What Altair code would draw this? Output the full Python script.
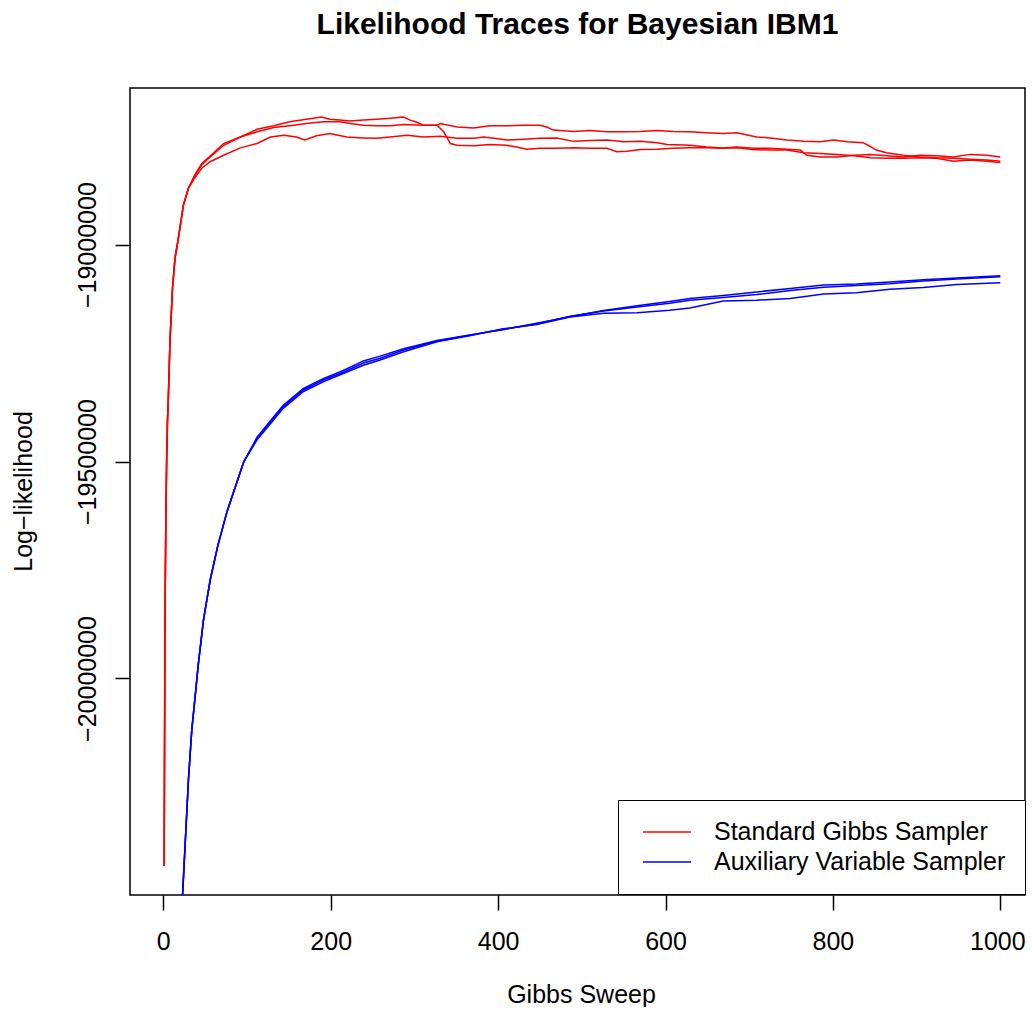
import altair as alt
import pandas as pd

# ---- data (log-likelihood values in thousands) ----
red_early_sweep = [1, 2, 3, 4, 5, 6, 8, 11, 14, 18, 24, 30]
red_early_k = [-20432, -19865, -19635, -19497, -19404, -19354, -19220, -19100,
               -19031, -18985, -18909, -18870]

red_low_sweep = [38, 46, 56, 72, 92, 112, 128, 144, 159, 169, 183, 199, 219, 239, 255,
                 271, 291, 311, 331, 351, 371, 383, 395, 411, 431, 450, 470, 490, 510, 530,
                 550, 570, 590, 602, 630, 649, 669, 685, 705, 725, 745, 761, 769, 785, 805,
                 825, 845, 864, 884, 904, 924, 944, 964, 984, 1000]
red_low_k = [-18845, -18824, -18809, -18794, -18777, -18767, -18752, -18748, -18752, -18759,
             -18749, -18744, -18752, -18754, -18755, -18752, -18748, -18752, -18750, -18755,
             -18755, -18752, -18755, -18759, -18757, -18755, -18754, -18762, -18760, -18759,
             -18763, -18762, -18765, -18769, -18771, -18775, -18777, -18775, -18778, -18778,
             -18780, -18782, -18794, -18798, -18798, -18794, -18792, -18795, -18798, -18794,
             -18795, -18798, -18792, -18794, -18798]

red_top_sweep = [38, 46, 56, 72, 92, 112, 132, 151, 171, 189, 199, 211, 223, 239, 255,
                 271, 287, 295, 303, 311, 327, 331, 351, 371, 390, 410, 430, 450, 458, 466,
                 490, 510, 530, 550, 570, 590, 609, 629, 649, 669, 685, 709, 725, 745, 765,
                 785, 801, 817, 836, 842, 852, 864, 884, 904, 924, 944, 964, 984, 1000]
red_top_k = [-18838, -18813, -18796, -18767, -18752, -18734, -18726, -18717, -18711, -18706,
             -18711, -18713, -18715, -18713, -18711, -18709, -18706, -18713, -18718, -18725,
             -18725, -18721, -18729, -18731, -18726, -18726, -18725, -18725, -18729, -18736,
             -18739, -18737, -18740, -18740, -18739, -18737, -18739, -18740, -18742, -18744,
             -18742, -18752, -18754, -18759, -18762, -18763, -18759, -18763, -18765, -18771,
             -18782, -18788, -18794, -18798, -18800, -18801, -18803, -18805, -18808]

red_drop_sweep = [38, 46, 56, 72, 92, 112, 132, 151, 171, 191, 211, 223, 239, 255, 271,
                  287, 311, 327, 335, 343, 351, 371, 390, 410, 422, 434, 450, 470, 490, 510,
                  530, 542, 554, 570, 590, 609, 629, 649, 669, 685, 705, 725, 745, 765, 785,
                  805, 825, 845, 864, 884, 904, 924, 944, 964, 984, 1000]
red_drop_k = [-18840, -18816, -18798, -18771, -18752, -18740, -18730, -18726, -18721, -18717,
              -18717, -18721, -18725, -18726, -18726, -18723, -18725, -18725, -18740, -18767,
              -18771, -18772, -18769, -18771, -18775, -18780, -18778, -18778, -18777, -18778,
              -18778, -18786, -18785, -18781, -18780, -18778, -18777, -18777, -18778, -18777,
              -18781, -18782, -18782, -18788, -18790, -18792, -18795, -18800, -18801, -18801,
              -18800, -18801, -18808, -18805, -18808, -18811]

blue_early_sweep = [21, 23, 30, 34, 42, 48, 56, 65, 76, 88, 96]
blue_early_k = [-20579, -20499, -20234, -20119, -19964, -19865, -19773, -19695, -19616,
                -19547, -19501]

blue_sweep = [112, 128, 143, 167, 191, 215, 239, 259, 287, 327, 366, 406, 446, 486, 526,
              566, 605, 629, 669, 709, 749, 789, 828, 868, 908, 948, 1000]
blue_a_k = [-19444, -19406, -19371, -19332, -19309, -19290, -19268, -19257, -19240, -19221,
            -19208, -19196, -19181, -19166, -19152, -19141, -19131, -19124, -19117, -19109,
            -19101, -19093, -19091, -19086, -19081, -19077, -19072]
blue_b_k = [-19446, -19409, -19374, -19335, -19312, -19294, -19273, -19262, -19243, -19222,
            -19209, -19195, -19183, -19165, -19153, -19144, -19135, -19128, -19122, -19115,
            -19106, -19098, -19094, -19090, -19084, -19079, -19074]
blue_c_k = [-19450, -19413, -19378, -19339, -19316, -19297, -19278, -19266, -19247, -19224,
            -19210, -19194, -19184, -19167, -19158, -19157, -19151, -19146, -19130, -19128,
            -19124, -19114, -19111, -19103, -19099, -19092, -19088]

STD = "Standard Gibbs Sampler"
AUX = "Auxiliary Variable Sampler"

x_ticks = [0, 200, 400, 600, 800, 1000]
y_ticks = [-20000000, -19500000, -19000000]

# ---- build long table ----
rows = []
def add(trace, sampler, sweeps, vals):
    for s, v in zip(sweeps, vals):
        rows.append({"sweep": s, "value": v * 1000, "trace": trace, "sampler": sampler})

for name, sw, vk in [("r1", red_low_sweep, red_low_k),
                     ("r2", red_top_sweep, red_top_k),
                     ("r3", red_drop_sweep, red_drop_k)]:
    add(name, STD, red_early_sweep, red_early_k)
    add(name, STD, sw, vk)

for name, vk in [("b1", blue_a_k), ("b2", blue_b_k), ("b3", blue_c_k)]:
    add(name, AUX, blue_early_sweep, blue_early_k)
    add(name, AUX, blue_sweep, vk)

df = pd.DataFrame(rows)

FONT = "Liberation Sans"

color = alt.Color(
    "sampler:N",
    scale=alt.Scale(domain=[STD, AUX], range=["#FF0000", "#0000FF"]),
    legend=alt.Legend(
        title=None, orient="none", legendX=488, legendY=712,
        symbolType="M-2,0L2,0", symbolSize=576, symbolStrokeWidth=1.5,
        labelFontSize=25, labelFont=FONT, labelColor="black", labelLimit=0,
        padding=19, symbolOffset=17, labelOffset=34, rowPadding=4,
        strokeColor="black", fillColor="white",
    ),
)

chart = alt.Chart(df).mark_line(strokeWidth=1.5, clip=True).encode(
    x=alt.X(
        "sweep:Q",
        scale=alt.Scale(domain=[-39.8, 1029.5], nice=False, zero=False),
        axis=alt.Axis(
            values=x_ticks, format="d", title="Gibbs Sweep", grid=False, domain=False,
            tickSize=15, tickWidth=1.5, tickColor="black",
            labelFontSize=25, labelFont=FONT, labelColor="black", labelPadding=19,
            labelOffset={"condition": {"test": "datum.value === 1000", "value": -3}, "value": 0},
            titleFontSize=25, titleFont=FONT, titleFontWeight="normal", titleColor="black",
            titleX=451, titleY=107, titleBaseline="alphabetic", titleAlign="center",
        ),
    ),
    y=alt.Y(
        "value:Q",
        scale=alt.Scale(domain=[-20499000, -18639000], nice=False, zero=False),
        axis=alt.Axis(
            values=y_ticks, format="d", title="Log\u2212likelihood", grid=False, domain=False,
            tickSize=15, tickWidth=1.5, tickColor="black",
            labelFontSize=25, labelFont=FONT, labelColor="black", labelPadding=20,
            labelAngle=270, labelAlign="center", labelBaseline="alphabetic",
            titleFontSize=25, titleFont=FONT, titleFontWeight="normal", titleColor="black",
            titleX=-99, titleY=403, titleBaseline="alphabetic", titleAlign="center", titleAngle=270,
        ),
    ),
    color=color,
    detail="trace:N",
    order="sweep:Q",
).properties(
    width=895,
    height=807,
    padding={"left": 122, "top": 80, "right": 1, "bottom": 112},
    autosize=alt.AutoSizeParams(type="none"),
    title=alt.TitleParams(
        text="Likelihood Traces for Bayesian IBM1", fontSize=30, font=FONT,
        fontWeight="bold", color="black", anchor="middle", baseline="alphabetic", offset=24,
    ),
).configure_view(stroke="black", strokeWidth=1.5)

chart.save("out.html", embed_options={"renderer": "svg", "actions": False})
